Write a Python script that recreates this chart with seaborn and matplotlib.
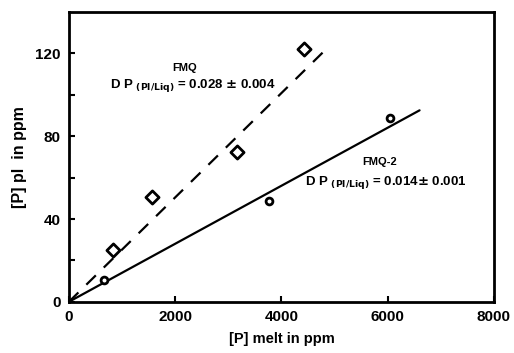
import numpy as np
import pandas as pd
import matplotlib
matplotlib.use("Agg")
import matplotlib.pyplot as plt
import seaborn as sns

# FMQ runs (diamonds)
fmq_melt = [830, 1560, 3160, 4420]
fmq_pl = [25, 50.5, 72.5, 122]
# FMQ-2 runs (circles)
fmq2_melt = [660, 3770, 6040]
fmq2_pl = [10.5, 48.5, 89]
# regression lines as drawn
fmq_fit_x = [0, 4800]
fmq_fit_y = [0, 121]
fmq2_fit_x = [0, 6600]
fmq2_fit_y = [0, 92.5]

sns.set_style("ticks", {'axes.edgecolor': 'black', 'text.color': 'black',
                        'axes.labelcolor': 'black', 'xtick.color': 'black',
                        'ytick.color': 'black'})
plt.rcParams['font.family'] = ['Liberation Sans', 'DejaVu Sans']
plt.rcParams['font.weight'] = 'bold'

fig = plt.figure(figsize=(5.14, 3.53), dpi=100)
ax = fig.add_axes([0.134, 0.145, 0.827, 0.821])

df1 = pd.DataFrame({'x': fmq_melt, 'y': fmq_pl})
df2 = pd.DataFrame({'x': fmq2_melt, 'y': fmq2_pl})

sns.lineplot(x=fmq_fit_x, y=fmq_fit_y, ax=ax, color='black', lw=1.6,
             linestyle=(0, (6, 5)))
sns.lineplot(x=fmq2_fit_x, y=fmq2_fit_y, ax=ax, color='black', lw=1.6)
sns.scatterplot(data=df1, x='x', y='y', ax=ax, marker='D', s=45, facecolor='white',
                edgecolor='black', linewidth=2, zorder=5)
sns.scatterplot(data=df2, x='x', y='y', ax=ax, marker='o', s=24, facecolor='white',
                edgecolor='black', linewidth=2, zorder=5)

ax.set_xlim(0, 8000)
ax.set_ylim(0, 140)
ax.set_xticks([0, 2000, 4000, 6000, 8000])
ax.set_yticks([0, 40, 80, 120])
ax.set_yticks([20, 60, 100], minor=True)
ax.tick_params(direction='in', length=4, width=1.5, labelsize=11, colors='black')
ax.tick_params(axis='x', pad=6)
ax.tick_params(axis='y', pad=6)
ax.tick_params(which='minor', direction='in', length=4, width=1.5, colors='black')
for s in ax.spines.values():
    s.set_linewidth(2)
    s.set_color('black')
    s.set_visible(True)

ax.set_xlabel('[P] melt in ppm', fontsize=10.5, fontweight='bold', labelpad=6, color='black')
ax.set_ylabel('[P] pl  in ppm', fontsize=11.5, fontweight='bold', labelpad=6, color='black')

ax.text(2180, 113, 'FMQ', fontsize=8, fontweight='bold', ha='center', va='center', color='black')
ax.text(770, 104.5, r'D P $_{\mathbf{(Pl/Liq)}}$ = 0.028 $\pm$ 0.004', fontsize=9.5,
        fontweight='bold', va='center', color='black')
ax.text(5850, 67.5, 'FMQ-2', fontsize=8, fontweight='bold', ha='center', va='center', color='black')
ax.text(4440, 57.8, r'D P $_{\mathbf{(Pl/Liq)}}$ = 0.014$\pm$ 0.001', fontsize=9.5,
        fontweight='bold', va='center', color='black')

fig.savefig('out.png', dpi=100)
